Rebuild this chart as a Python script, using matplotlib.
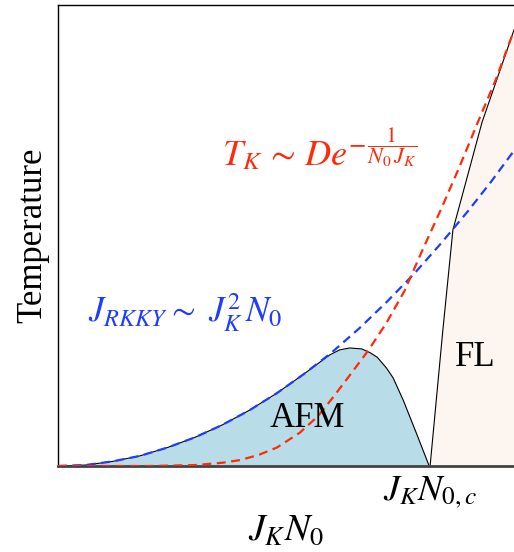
import numpy as np
import matplotlib
matplotlib.use("Agg")
import matplotlib.pyplot as plt

plt.rcParams['font.family'] = ['Liberation Serif', 'DejaVu Serif']
plt.rcParams['mathtext.fontset'] = 'stix'

# RKKY scale (blue dashed)
rkky_x = [0.00, 0.06, 0.12, 0.18, 0.24, 0.30, 0.36, 0.42, 0.48, 0.54,
          0.60, 0.66, 0.72, 0.78, 0.84, 0.90, 0.95, 1.00]
rkky_t = [0.000, 0.002, 0.010, 0.022, 0.040, 0.062, 0.089, 0.121, 0.158, 0.200,
          0.246, 0.298, 0.355, 0.416, 0.483, 0.554, 0.617, 0.684]

# Kondo scale (red dashed)
kondo_x = [0.00, 0.20, 0.30, 0.36, 0.40, 0.44, 0.48, 0.53, 0.57, 0.60,
           0.64, 0.68, 0.72, 0.76, 0.80, 0.84, 0.88, 0.92, 0.96, 1.00]
kondo_t = [0.000, 0.000, 0.002, 0.007, 0.013, 0.024, 0.040, 0.072, 0.108, 0.145,
           0.197, 0.250, 0.310, 0.380, 0.470, 0.557, 0.648, 0.744, 0.838, 0.945]

# AFM dome boundary
afm_x = [0.00, 0.06, 0.12, 0.18, 0.24, 0.30, 0.36, 0.42, 0.48, 0.54,
         0.57, 0.596, 0.618, 0.640, 0.666, 0.684, 0.700, 0.720, 0.735,
         0.757, 0.786, 0.814]
afm_t = [0.000, 0.002, 0.010, 0.022, 0.040, 0.062, 0.089, 0.121, 0.158, 0.200,
         0.222, 0.241, 0.252, 0.256, 0.254, 0.246, 0.236, 0.213, 0.191,
         0.143, 0.071, 0.000]

# Fermi liquid crossover
fl_x = [0.816, 0.844, 0.866, 0.930, 1.000]
fl_t = [0.000, 0.295, 0.512, 0.746, 0.946]

x_crit = 0.815

red = '#ff2a0a'
blue = '#1f3cff'

fig = plt.figure(figsize=(5.14, 5.52), dpi=100)
ax = fig.add_axes([58 / 514, 1 - 466 / 552, 1 - 58 / 514, (466 - 5) / 552])

ax.fill_between(afm_x, afm_t, 0, color='#b8dde9', lw=0, zorder=1)
ax.fill_betweenx(fl_t, fl_x, 1.0, color='#fdf5f0', lw=0, zorder=1)
ax.plot(afm_x, afm_t, color='black', lw=0.8, zorder=2)
ax.plot(fl_x, fl_t, color='black', lw=0.8, zorder=2)

ax.plot(rkky_x, rkky_t, color=blue, lw=1.6, ls=(0, (4, 2.5)), zorder=3)
ax.plot(kondo_x, kondo_t, color=red, lw=1.6, ls=(0, (4, 2.5)), zorder=4)

ax.text(0.546, 0.104, 'AFM', fontsize=25, ha='center', va='center', zorder=5)
ax.text(0.914, 0.236, 'FL', fontsize=25, ha='center', va='center', zorder=5)

# Kondo label: exponent fraction set apart so it can be bigger
tk = ax.text(0.36, 0.653, r'$T_K\,\sim\,De^{-}$',
             fontsize=26, color=red, ha='left', va='baseline')
ax.annotate(r'$\dfrac{1}{N_0\,J_K}$', xy=(1.0, 0.692), xycoords=(tk, 'data'),
            xytext=(0.5, 0), textcoords='offset points',
            fontsize=16, color=red, ha='left', va='center')

ax.text(0.066, 0.312, r'$J_{RKKY} \sim\ J_K^2\, N_0$',
        fontsize=25, color=blue, ha='left', va='baseline')

ax.set_xlim(0, 1)
ax.set_ylim(0, 1)
ax.set_xticks([x_crit])
ax.set_xticklabels([r'$J_K N_{0,c}$'], fontsize=26)
ax.tick_params(axis='x', length=0, pad=6)
ax.set_yticks([])
ax.set_xlabel(r'$J_K N_0$', fontsize=27, labelpad=2)
ax.set_ylabel('Temperature', fontsize=25, labelpad=6)

ax.spines['right'].set_visible(False)
ax.spines['bottom'].set_color('#444444')
ax.spines['bottom'].set_linewidth(2)
ax.spines['left'].set_linewidth(1)
ax.spines['top'].set_linewidth(1)

fig.savefig('out.png', dpi=100)
